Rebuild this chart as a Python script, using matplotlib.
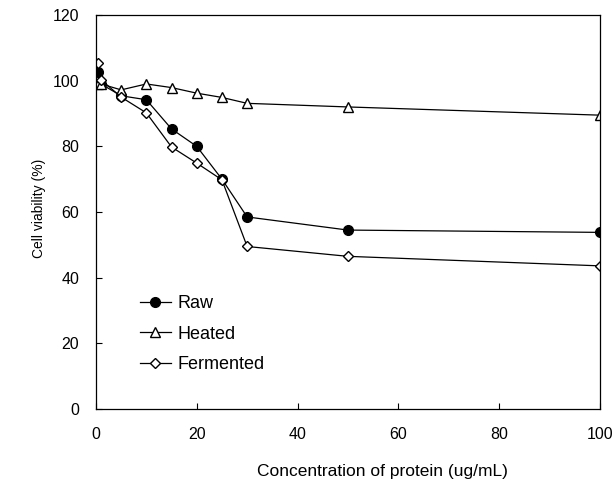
import matplotlib
matplotlib.use("Agg")
import matplotlib.pyplot as plt

plt.rcParams['font.family'] = ['Liberation Sans', 'DejaVu Sans']

conc = [0.5, 1, 5, 10, 15, 20, 25, 30, 50, 100]
raw = [102.5, 99, 95.4, 94.2, 85.3, 80, 70, 58.5, 54.5, 53.8]
heated = [99, 99, 97.2, 99, 97.9, 96.2, 94.9, 93.1, 92, 89.5]
fermented = [105.3, 100.3, 95, 90.2, 79.8, 74.9, 69.8, 49.5, 46.5, 43.6]

fig = plt.figure(figsize=(6.15, 4.86), dpi=100)
ax = fig.add_axes([0.156, 0.1584, 0.8195, 0.8107])

ax.plot(conc, raw, color='k', lw=0.9, marker='o', ms=7, mfc='k', mec='k', label='Raw')
ax.plot(conc, heated, color='k', lw=0.9, marker='^', ms=7, mfc='white', mec='k', label='Heated')
ax.plot(conc, fermented, color='k', lw=0.9, marker='D', ms=5.5, mfc='white', mec='k', label='Fermented')

ax.set_xlim(0, 100)
ax.set_ylim(0, 120)
ax.set_xticks([0, 20, 40, 60, 80, 100])
ax.set_yticks([0, 20, 40, 60, 80, 100, 120])
ax.tick_params(direction='in', length=4, labelsize=11.5)
ax.tick_params(axis='y', pad=12)
ax.tick_params(axis='x', pad=13)
for s in ax.spines.values():
    s.set_linewidth(0.9)

ax.set_xlabel('Concentration of protein (ug/mL)', fontsize=12.5)
ax.xaxis.set_label_coords(0.569, -0.14)
ax.set_ylabel('Cell viability (%)', fontsize=10)
ax.yaxis.set_label_coords(-0.1, 0.51)

ax.legend(loc='upper left', bbox_to_anchor=(0.055, 0.33), frameon=False,
          fontsize=13, handlelength=1.7, handletextpad=0.4, labelspacing=0.75)

fig.savefig('out.png', dpi=100)
